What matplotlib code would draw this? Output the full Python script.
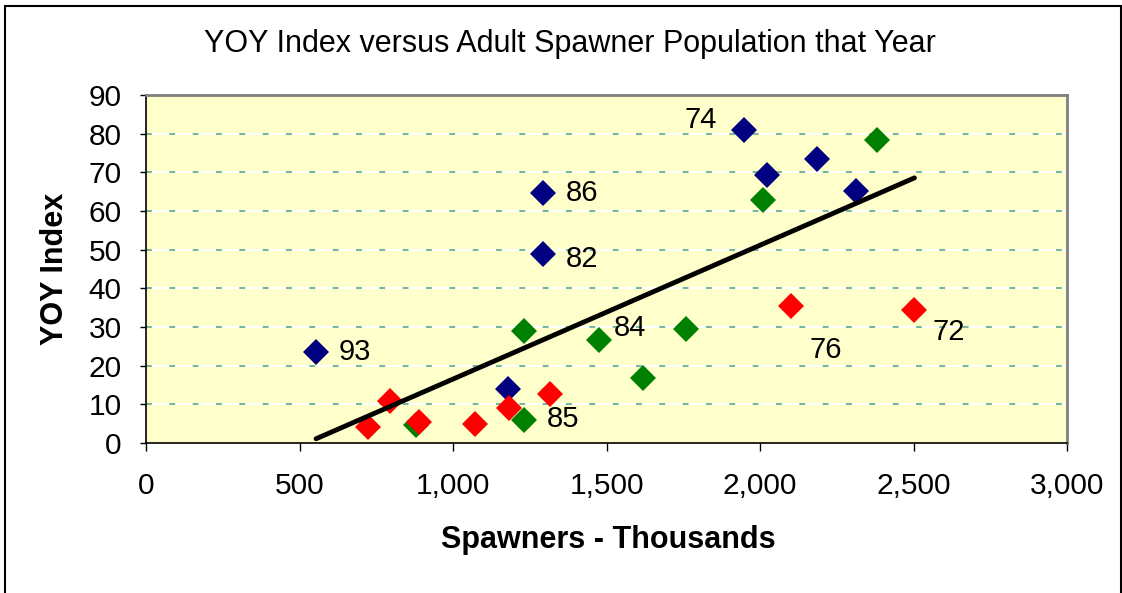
import matplotlib
matplotlib.use("Agg")
import matplotlib.pyplot as plt
from matplotlib.patches import Rectangle
import numpy as np

plt.rcParams['font.family'] = ['Liberation Sans', 'DejaVu Sans']

# spawners (thousands) and YOY index, one group per colour
blue_x = [554, 1293, 1293, 1178, 1948, 2024, 2185, 2313]
blue_y = [23.5, 64.6, 48.9, 13.9, 80.9, 69.4, 73.5, 65.3]
green_x = [1232, 1476, 1232, 880, 2381, 2009, 1758, 1620]
green_y = [29.0, 26.6, 5.9, 4.7, 78.4, 62.8, 29.5, 16.8]
red_x = [722, 795, 888, 1072, 1183, 1315, 2100, 2503]
red_y = [4.1, 10.9, 5.5, 4.8, 9.0, 12.7, 35.5, 34.4]

# year labels: (x, y, text, offset in points)
labels = [
    (554, 23.5, '93', (28, 0)),
    (1293, 64.6, '86', (28, 0)),
    (1293, 48.9, '82', (28, -4)),
    (1476, 26.6, '84', (22, 9)),
    (1232, 5.9, '85', (28, 1)),
    (1948, 80.9, '74', (-31, 7)),
    (2100, 35.5, '76', (25, -32)),
    (2503, 34.4, '72', (25, -16)),
]

fig = plt.figure(figsize=(11.22, 5.93), dpi=100)
ax = fig.add_axes([146 / 1122, 1 - 443 / 593, 921 / 1122, 348 / 593])
ax.set_facecolor('#FFFFCC')

# outer border of the chart
fig.patches.append(Rectangle((5 / 1122, -0.05), 1116 / 1122, 1.05 - 6 / 593,
                             transform=fig.transFigure, fill=False,
                             edgecolor='black', linewidth=1.5))

for yv in range(10, 90, 10):
    ax.axhline(yv, color='white', lw=1.5, zorder=1)
    ax.axhline(yv, color='#5aa985', lw=1.2, linestyle=(0, (3.5, 10.5)), zorder=1.5)

ms = 13
ax.plot(blue_x, blue_y, 'D', color='#000080', ms=ms, mew=0, zorder=3)
ax.plot(green_x, green_y, 'D', color='#008000', ms=ms, mew=0, zorder=3)
ax.plot(red_x, red_y, 'D', color='#FF0000', ms=ms, mew=0, zorder=3)

# linear trend over all points
all_x = np.array(blue_x + green_x + red_x, dtype=float)
all_y = np.array(blue_y + green_y + red_y, dtype=float)
k, b = np.polyfit(all_x, all_y, 1)
tx = np.array([all_x.min(), all_x.max()])
ax.plot(tx, k * tx + b, color='black', lw=3.5, solid_capstyle='round', zorder=4)

for x, y, t, off in labels:
    ax.annotate(t, (x, y), xytext=off, textcoords='offset points',
                ha='center', va='center', fontsize=21, zorder=5)

ax.set_xlim(0, 3000)
ax.set_ylim(0, 90)
ax.set_xticks(range(0, 3001, 500))
ax.set_xticklabels([f'{v:,}' for v in range(0, 3001, 500)])
ax.set_yticks(range(0, 91, 10))
ax.tick_params(axis='x', direction='out', length=6, width=1, pad=15, labelsize=21.5)
ax.tick_params(axis='y', direction='out', length=4.5, width=1, pad=13, labelsize=21.5)

for s in ['top', 'right']:
    ax.spines[s].set_color('#808080')
    ax.spines[s].set_linewidth(2)
for s in ['left', 'bottom']:
    ax.spines[s].set_color('black')
    ax.spines[s].set_linewidth(1.2)

ax.set_xlabel('Spawners - Thousands', fontsize=22, fontweight='bold')
ax.set_ylabel('YOY Index', fontsize=22, fontweight='bold')
ax.xaxis.set_label_coords(0.5016, -0.279)
ax.yaxis.set_label_coords(-0.099, 0.5)
ax.xaxis.label.set_va('center')
ax.yaxis.label.set_va('center')
fig.text(570 / 1122, 1 - 44 / 593, 'YOY Index versus Adult Spawner Population that Year',
         ha='center', va='center', fontsize=22)

fig.savefig('out.png', dpi=100)
